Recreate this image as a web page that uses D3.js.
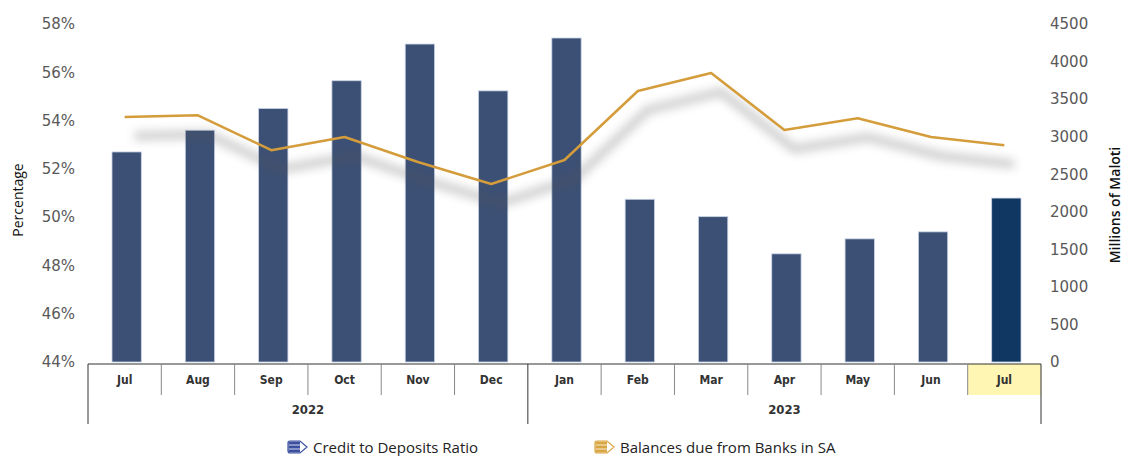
<!DOCTYPE html>
<html>
<head>
<meta charset="utf-8">
<script src="https://cdn.jsdelivr.net/npm/d3@7"></script>
<style>
  body { margin: 0; background: #fff; }
  svg { display: block; }
</style>
</head>
<body>
<svg id="chart" width="1125" height="456"></svg>
<script>
// data
const months = ["Jul", "Aug", "Sep", "Oct", "Nov", "Dec", "Jan", "Feb", "Mar", "Apr", "May", "Jun", "Jul"];
const years = [{label: "2022", from: 0, to: 5}, {label: "2023", from: 6, to: 12}];
const creditRatio = [52.7, 53.6, 54.5, 55.65, 57.17, 55.23, 57.42, 50.74, 50.02, 48.48, 49.1, 49.39, 50.79];
const balancesSA = [3262, 3285, 2820, 2996, 2663, 2370, 2689, 3608, 3848, 3089, 3245, 2996, 2885];
const leftTicks = [44, 46, 48, 50, 52, 54, 56, 58];
const rightTicks = [0, 500, 1000, 1500, 2000, 2500, 3000, 3500, 4000, 4500];

const barColor = "#3c5075", lastBarColor = "#0f3761", lineColor = "#d49c3a";
const tickFont = "'DejaVu Sans', Verdana, sans-serif";
const catFont = "'DejaVu Sans Condensed', 'Liberation Sans Narrow', sans-serif";

const svg = d3.select("#chart");
const plotLeft = 88, plotRight = 1041, plotTop = 24, plotBottom = 362;

const x = d3.scaleBand().domain(d3.range(months.length)).range([plotLeft, plotRight])
    .paddingInner(0.6).paddingOuter(0.3);
const yL = d3.scaleLinear().domain([44, 58]).range([plotBottom, plotTop]);
const yR = d3.scaleLinear().domain([0, 4500]).range([plotBottom, plotTop]);

// shadow filter for line
const defs = svg.append("defs");
defs.append("filter").attr("id", "shade").attr("x", "-10%").attr("y", "-50%")
    .attr("width", "120%").attr("height", "200%")
  .append("feGaussianBlur").attr("stdDeviation", 5);

// bars
svg.append("g").selectAll("rect").data(creditRatio).enter().append("rect")
    .attr("x", (d, i) => x(i) + 2)
    .attr("y", d => yL(d))
    .attr("width", x.bandwidth())
    .attr("height", d => yL(44) - yL(d))
    .attr("fill", (d, i) => i == months.length - 1 ? lastBarColor : barColor)
    .attr("stroke", "#c9d3e6").attr("stroke-width", 0.8);

// line + shadow
const line = d3.line().x((d, i) => x(i) + x.bandwidth() / 2).y(d => yR(d));
svg.append("path").datum(balancesSA)
    .attr("d", line)
    .attr("fill", "none").attr("stroke", "#555").attr("stroke-width", 9)
    .attr("opacity", 0.28)
    .attr("transform", "translate(10,19)")
    .attr("filter", "url(#shade)");
svg.append("path").datum(balancesSA)
    .attr("d", line)
    .attr("fill", "none").attr("stroke", lineColor).attr("stroke-width", 2.5)
    .attr("stroke-linejoin", "round");

// left axis
const gl = svg.append("g").attr("transform", "translate(75,0)")
    .call(d3.axisLeft(yL).tickValues(leftTicks).tickSize(0).tickFormat(d => d + "%"));
gl.select(".domain").remove();
gl.selectAll("text").attr("x", 0).style("font-family", tickFont).style("font-size", "15px").attr("fill", "#595959");

// right axis
const gr = svg.append("g").attr("transform", "translate(1050,0)")
    .call(d3.axisRight(yR).tickValues(rightTicks).tickSize(0).tickFormat(d3.format("d")));
gr.select(".domain").remove();
gr.selectAll("text").attr("x", 0).style("font-family", tickFont).style("font-size", "15px").attr("fill", "#595959");

// axis titles
svg.append("text").attr("transform", "translate(23,200) rotate(-90)")
    .attr("text-anchor", "middle").style("font-family", "Open Sans, sans-serif")
    .style("font-size", "14px").attr("fill", "#111").text("Percentage");
svg.append("text").attr("transform", "translate(1120,205) rotate(-90)")
    .attr("text-anchor", "middle").style("font-family", "Open Sans, sans-serif")
    .style("font-size", "14px").style("font-weight", 600).attr("fill", "#111").text("Millions of Maloti");

// category axis box
const step = (plotRight - plotLeft) / months.length;
const cellX = i => plotLeft + i * step;
const row1 = 364, row2 = 395, row3 = 424;
const cat = svg.append("g");
cat.append("rect").attr("x", cellX(12)).attr("y", row1).attr("width", step).attr("height", row2 - row1)
    .attr("fill", "#fff6b3");
cat.append("line").attr("x1", plotLeft).attr("x2", plotRight).attr("y1", row1).attr("y2", row1)
    .attr("stroke", "#333").attr("stroke-width", 1.2);
months.forEach((m, i) => {
    if (i > 0) {
        const edge = years.some(y => y.from == i);
        cat.append("line").attr("x1", cellX(i)).attr("x2", cellX(i))
            .attr("y1", row1).attr("y2", edge ? row3 : row2)
            .attr("stroke", edge ? "#333" : "#888").attr("stroke-width", 1);
    }
    cat.append("text").attr("x", cellX(i) + step / 2).attr("y", row1 + 20)
        .attr("text-anchor", "middle")
        .style("font-family", catFont)
        .style("font-size", "12px").style("font-weight", "bold").attr("fill", "#333")
        .text(m);
});
[plotLeft, plotRight].forEach(xx => cat.append("line").attr("x1", xx).attr("x2", xx)
    .attr("y1", row1).attr("y2", row3).attr("stroke", "#333").attr("stroke-width", 1));
years.forEach(y => {
    cat.append("text").attr("x", (cellX(y.from) + cellX(y.to + 1)) / 2).attr("y", row2 + 19)
        .attr("text-anchor", "middle")
        .style("font-family", catFont)
        .style("font-size", "13px").style("font-weight", "bold").attr("fill", "#333")
        .text(y.label);
});

// legend
const legendItems = [
    {name: "Credit to Deposits Ratio", color: "#3a4fa0", x: 288},
    {name: "Balances due from Banks in SA", color: "#d9a642", x: 595}
];
const lg = svg.append("g").selectAll("g").data(legendItems).enter().append("g")
    .attr("transform", d => "translate(" + d.x + ",447)");
lg.append("path").attr("d", "M0,-4 Q0,-6 2,-6 L12,-6 L19,0 L12,6 L2,6 Q0,6 0,4 Z")
    .attr("fill", "#fff").attr("stroke", d => d.color).attr("stroke-width", 1.2);
lg.append("path").attr("d", "M0.5,-4 Q0.5,-5.5 2,-5.5 L12,-5.5 L12,5.5 L2,5.5 Q0.5,5.5 0.5,4 Z")
    .attr("fill", d => d.color);
lg.append("path").attr("d", "M1,-2 L12,-2 M1,2 L12,2").attr("stroke", "#fff").attr("stroke-width", 0.8);
lg.append("text").attr("x", 25).attr("y", 6)
    .style("font-family", "Open Sans, sans-serif").style("font-size", "15px").attr("fill", "#222")
    .text(d => d.name);
</script>
</body>
</html>
